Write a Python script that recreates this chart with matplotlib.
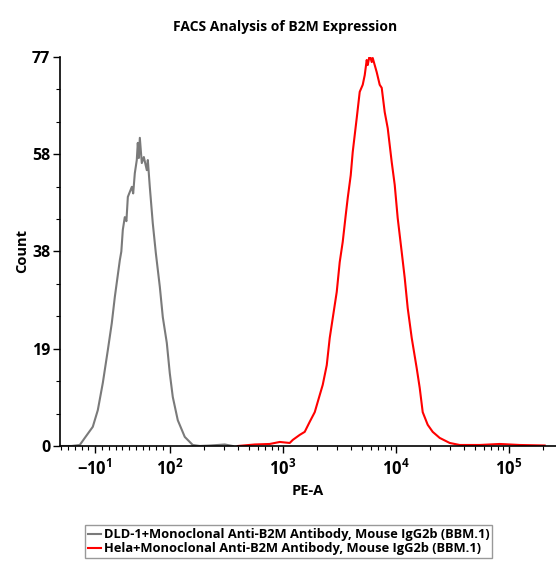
import matplotlib
matplotlib.use("Agg")
import matplotlib.pyplot as plt
from matplotlib.ticker import FixedLocator
import numpy as np

plt.rcParams['font.family'] = ['Open Sans', 'DejaVu Sans']
plt.rcParams['mathtext.fontset'] = 'custom'
plt.rcParams['mathtext.bf'] = 'Open Sans:bold'
plt.rcParams['mathtext.rm'] = 'Open Sans:bold'

# histogram traces (PE-A value, count)
gray_x = [-62, -45, -32.8, -25.4, -13.6, -6.2, 1.2, 8.6, 14.4, 18.9, 26.3, 28.5,
          30.7, 33.6, 36.0, 38.1, 44.0, 46.0, 48.4, 51.3, 52.8, 54.3, 55.8, 58.7,
          61.7, 66.1, 67.6, 70.5, 74.9, 79.4, 85.3, 89.7, 95.6, 100, 106.3, 117.7,
          135.7, 159.7, 184.3, 230, 306.7, 360]
gray_y = [0, 0, 0.2, 1.6, 3.8, 7.1, 12.5, 19.0, 24.3, 29.5, 36.8, 38.5,
          42.8, 45.3, 44.5, 49.3, 51.3, 50.0, 54.0, 56.6, 60.0, 57.0, 61.0, 56.0,
          57.2, 54.6, 56.6, 51.3, 44.1, 38.2, 31.5, 25.5, 20.4, 14.4, 9.7, 5.1,
          1.8, 0.2, 0, 0.1, 0.3, 0]

red_x = [400, 565, 767, 941, 1153, 1226, 1414, 1565, 1734, 1920, 2126, 2259,
         2452, 2606, 2770, 3006, 3194, 3396, 3610, 3761, 3998, 4164, 4517, 4802,
         5105, 5317, 5538, 5652, 5888, 6133, 6259, 6789, 7217, 7518, 7991, 8499,
         9218, 9799, 10416, 11300, 12013, 12771, 13856, 15344, 16313, 17340,
         19197, 21256, 24513, 30060, 36850, 55380, 83250, 125130, 208200]
red_y = [0, 0.3, 0.4, 0.8, 0.6, 1.2, 2.2, 2.8, 4.8, 6.7, 10.1, 12.1,
         16.0, 21.4, 25.3, 30.5, 36.4, 40.4, 45.7, 49.1, 53.6, 58.2, 64.9, 70.1,
         71.5, 73.4, 76.4, 75.4, 77.4, 76.0, 76.8, 74.0, 71.5, 70.9, 66.1, 62.9,
         56.2, 51.7, 45.1, 38.4, 33.3, 27.3, 21.4, 15.4, 11.5, 6.7,
         4.2, 2.8, 1.6, 0.6, 0.2, 0.2, 0.4, 0.2, 0.1]

x_ticks = [-10, 100, 1000, 10000, 100000]
x_ticklabels = [r'$\mathbf{-10^{1}}$', r'$\mathbf{10^{2}}$', r'$\mathbf{10^{3}}$',
                r'$\mathbf{10^{4}}$', r'$\mathbf{10^{5}}$']
y_max = 77
y_ticklabels = ['0', '19', '38', '58', '77']

labels = ['DLD-1+Monoclonal Anti-B2M Antibody, Mouse IgG2b (BBM.1)',
          'Hela+Monoclonal Anti-B2M Antibody, Mouse IgG2b (BBM.1)']

fig = plt.figure(figsize=(5.56, 5.61), dpi=100)
ax = fig.add_axes([0.1079, 0.205, 0.892, 0.6934])

ax.plot(gray_x, gray_y, color='#7a7a7a', lw=1.5, label=labels[0])
ax.plot(red_x, red_y, color='#ff0000', lw=1.5, label=labels[1])

ax.set_xscale('symlog', linthresh=100, linscale=0.54)
ax.set_xlim(-62, 262144)
ax.set_ylim(0, y_max)

ax.set_xticks(x_ticks)
ax.set_xticklabels(x_ticklabels, fontsize=12)
minor_x = [-60, -50, -40, -30, -20, 0, 10, 20, 30, 40, 50, 60, 70, 80, 90]
for d in [100, 1000, 10000, 100000]:
    minor_x += [d * k for k in range(2, 10) if d * k < 262144]
ax.xaxis.set_minor_locator(FixedLocator(minor_x))

ax.set_yticks(np.linspace(0, y_max, 5))
ax.set_yticklabels(y_ticklabels, fontsize=11.5, fontweight='bold')
ax.yaxis.set_minor_locator(FixedLocator(np.linspace(0, y_max, 13)))

ax.tick_params(axis='both', which='major', length=5, width=1, direction='out')
ax.tick_params(axis='x', which='major', pad=4)
ax.tick_params(axis='y', which='major', pad=2)
ax.tick_params(axis='both', which='minor', length=3, width=0.8, direction='out')

for s in ['top', 'right']:
    ax.spines[s].set_visible(False)
for s in ['left', 'bottom']:
    ax.spines[s].set_linewidth(1.2)

ax.set_xlabel('PE-A', fontsize=10.5, fontweight='bold', labelpad=4)
ax.set_ylabel('Count', fontsize=10.5, fontweight='bold', labelpad=2)

fig.text(0.512, 0.951, 'FACS Analysis of B2M Expression', ha='center', va='center',
         fontsize=10, fontweight='bold')

fig.legend(loc='upper left', bbox_to_anchor=(79 / 556, 1 - 519 / 561),
           frameon=True, fancybox=False, edgecolor='#999999', framealpha=1,
           handlelength=1.0, handletextpad=0.2, borderpad=0.2, labelspacing=0.1,
           prop={'family': 'Open Sans', 'weight': 'bold', 'size': 9.3})

fig.savefig('out.png', dpi=100)
